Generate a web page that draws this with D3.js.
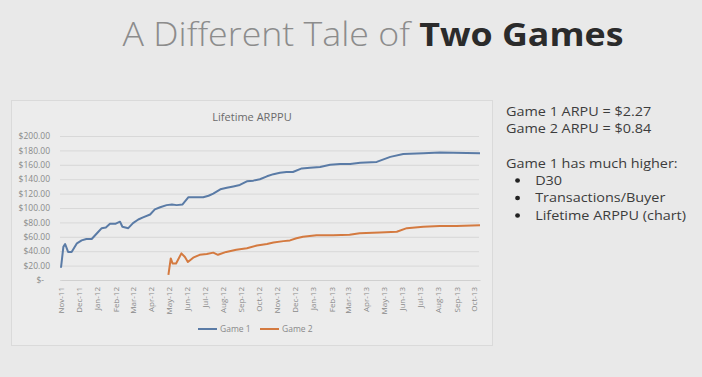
<!DOCTYPE html>
<html>
<head>
<meta charset="utf-8">
<script src="https://cdn.jsdelivr.net/npm/d3@7"></script>
<style>
    body { margin: 0; background: #e9e9e9; }
    svg { display: block; font-family: "Open Sans", sans-serif; }
</style>
</head>
<body>
<div id="slide"></div>
<script>
// Lifetime ARPPU
const game1Dates = ["2011-11-01", "2011-11-05", "2011-11-08", "2011-11-13", "2011-11-19", "2011-11-28",
    "2011-12-06", "2011-12-14", "2011-12-23", "2012-01-01", "2012-01-09", "2012-01-16", "2012-01-23",
    "2012-02-01", "2012-02-09", "2012-02-13", "2012-02-23", "2012-03-02", "2012-03-11", "2012-03-19",
    "2012-03-31", "2012-04-08", "2012-04-17", "2012-04-28", "2012-05-07", "2012-05-15", "2012-05-25",
    "2012-06-04", "2012-06-18", "2012-06-29", "2012-07-08", "2012-07-16", "2012-07-28", "2012-08-08",
    "2012-08-19", "2012-08-30", "2012-09-11", "2012-09-22", "2012-10-03", "2012-10-15", "2012-10-26",
    "2012-11-06", "2012-11-17", "2012-11-28", "2012-12-13", "2012-12-27", "2013-01-13", "2013-01-30",
    "2013-02-16", "2013-03-05", "2013-03-22", "2013-04-19", "2013-05-12", "2013-06-03", "2013-07-07",
    "2013-08-04", "2013-10-11"];
const game1Values = [17, 46, 50, 39, 39, 51,
    55, 57, 57, 65, 72, 73, 78,
    78, 81, 74, 72, 79, 84, 87,
    91, 98, 101, 104, 105, 104, 105,
    115, 115, 115, 117, 120, 126, 128,
    130, 132, 137, 138, 140, 144, 147,
    149, 150, 150, 155, 156, 157, 160,
    161, 161, 163, 164, 171, 175, 176,
    177, 176];

const game2Dates = ["2012-05-01", "2012-05-05", "2012-05-08", "2012-05-14", "2012-05-23", "2012-05-29",
    "2012-06-03", "2012-06-12", "2012-06-23", "2012-07-05", "2012-07-16", "2012-07-24", "2012-08-07",
    "2012-08-24", "2012-09-11", "2012-09-28", "2012-10-15", "2012-10-26", "2012-11-12", "2012-11-23",
    "2012-12-04", "2012-12-15", "2013-01-07", "2013-02-04", "2013-03-04", "2013-03-21", "2013-04-24",
    "2013-05-23", "2013-06-09", "2013-07-07", "2013-08-04", "2013-09-01", "2013-10-11"];
const game2Values = [7, 30, 23, 23, 37, 32,
    25, 31, 35, 36, 38, 35, 39,
    42, 44, 48, 50, 52, 54, 55,
    58, 60, 62, 62, 63, 65, 66,
    67, 72, 74, 75, 75, 76];

const seriesNames = ["Game 1", "Game 2"];
const seriesColors = ["#5a7ba6", "#d47a40"];
const yTicks = [0, 20, 40, 60, 80, 100, 120, 140, 160, 180, 200];

const parse = d3.timeParse("%Y-%m-%d");
const series = [
    game1Dates.map((d, i) => ({date: parse(d), value: game1Values[i]})),
    game2Dates.map((d, i) => ({date: parse(d), value: game2Values[i]}))
];

const width = 702;
const height = 377;

const svg = d3.select("#slide").append("svg")
    .attr("width", width)
    .attr("height", height);

svg.append("rect")
    .attr("width", width)
    .attr("height", height)
    .attr("fill", "#e9e9e9");

// slide title (the slide is a bit stretched sideways)
const title = svg.append("text")
    .attr("transform", "translate(373,46) scale(1.1,1)")
    .attr("text-anchor", "middle")
    .style("font-size", "32.5px");
title.append("tspan").text("A Different Tale of ").attr("fill", "#8c8c8c").style("font-weight", 300);
title.append("tspan").text("Two Games").attr("fill", "#2b2b2b").style("font-weight", 700);

// chart panel
svg.append("rect")
    .attr("x", 11.5)
    .attr("y", 100.5)
    .attr("width", 481)
    .attr("height", 245)
    .attr("fill", "#ececec")
    .attr("stroke", "#dadada");

svg.append("text")
    .attr("x", 252)
    .attr("y", 121)
    .attr("text-anchor", "middle")
    .attr("fill", "#6a6a6a")
    .style("font-size", "11px")
    .text("Lifetime ARPPU");

const x = d3.scaleTime()
    .domain([parse("2011-11-01"), parse("2013-10-11")])
    .range([61, 480]);

const y = d3.scaleLinear()
    .domain([0, 200])
    .range([280, 136]);

// gridlines + y labels
const yAxis = svg.append("g")
    .attr("transform", "translate(60,0)")
    .call(d3.axisLeft(y)
        .tickValues(yTicks)
        .tickSize(-419)
        .tickPadding(10)
        .tickFormat(d => d === 0 ? "$-" : d3.format("$.2f")(d)));
yAxis.select(".domain").remove();
yAxis.selectAll(".tick line").attr("stroke", "#d8d8d8").attr("stroke-width", 1);
yAxis.selectAll(".tick text")
    .attr("fill", "#8a8a8a")
    .style("font-family", "'Open Sans', sans-serif")
    .style("font-size", "8.5px");
yAxis.selectAll(".tick text").filter(d => d === 0).attr("dx", "-6");

// month labels
const xAxis = svg.append("g")
    .attr("transform", "translate(0,280)")
    .call(d3.axisBottom(x)
        .ticks(d3.timeMonth.every(1))
        .tickSize(0)
        .tickFormat(d3.timeFormat("%b-%y")));
xAxis.select(".domain").attr("stroke", "#d0d0d0");
xAxis.selectAll(".tick text")
    .attr("fill", "#8a8a8a")
    .style("font-family", "'Open Sans', sans-serif")
    .style("font-size", "8px")
    .attr("transform", "rotate(-90)")
    .attr("text-anchor", "end")
    .attr("x", -7)
    .attr("y", 0)
    .attr("dy", "0.35em");

const line = d3.line()
    .x(d => x(d.date))
    .y(d => y(d.value));

svg.selectAll(".series").data(series).join("path")
    .attr("class", "series")
    .attr("d", line)
    .attr("fill", "none")
    .attr("stroke", (d, i) => seriesColors[i])
    .attr("stroke-width", 2)
    .attr("stroke-linejoin", "round");

// legend
const legendX = [198, 260];
const legend = svg.selectAll(".legend").data(seriesNames).join("g")
    .attr("class", "legend")
    .attr("transform", (d, i) => `translate(${legendX[i]},329)`);
legend.append("line")
    .attr("x1", 0)
    .attr("x2", 19)
    .attr("stroke", (d, i) => seriesColors[i])
    .attr("stroke-width", 2);
legend.append("text")
    .attr("x", 22)
    .attr("dy", "0.35em")
    .attr("fill", "#8a8a8a")
    .style("font-size", "8.5px")
    .text(d => d);

// notes on the right
const notes = svg.append("g")
    .attr("transform", "translate(506,0) scale(1.1,1)")
    .attr("fill", "#3c3c3c")
    .style("font-size", "13.1px");
notes.append("text").attr("y", 116).text("Game 1 ARPU = $2.27");
notes.append("text").attr("y", 133).text("Game 2 ARPU = $0.84");
notes.append("text").attr("y", 168).text("Game 1 has much higher:");

const bullets = ["D30", "Transactions/Buyer", "Lifetime ARPPU (chart)"];
bullets.forEach((b, i) => {
    notes.append("circle")
        .attr("cx", 10.5)
        .attr("cy", 180.5 + i * 17.5)
        .attr("r", 2.2)
        .attr("fill", "#222");
    notes.append("text")
        .attr("x", 26.5)
        .attr("y", 185 + i * 17.5)
        .text(b);
});
</script>
</body>
</html>
